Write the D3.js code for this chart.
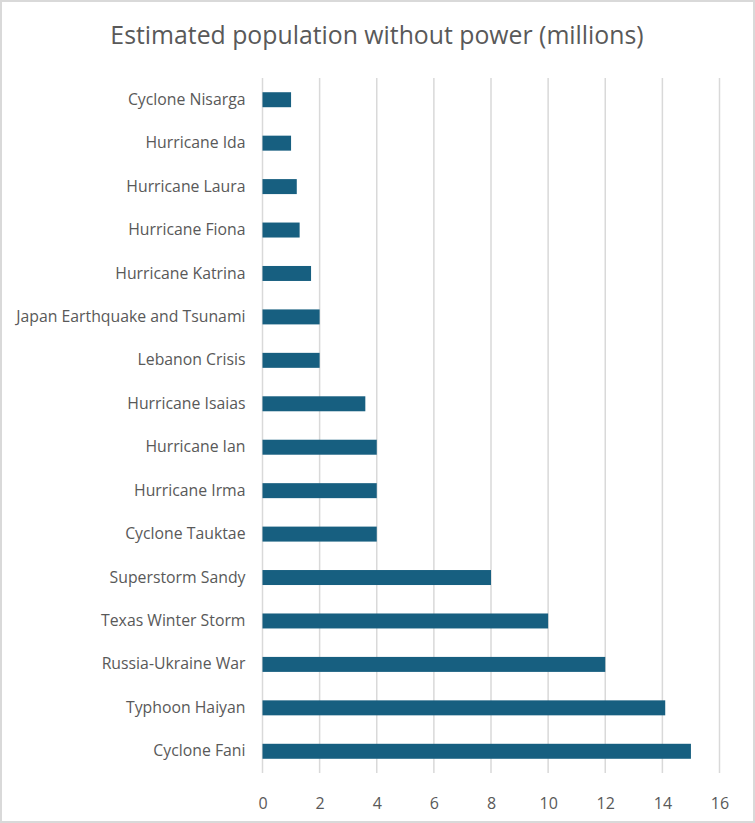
<!DOCTYPE html>
<html><head><meta charset="utf-8">
<script src="https://cdn.jsdelivr.net/npm/d3@7"></script>
<style>body{margin:0;background:#fff}svg{display:block}</style>
</head><body>
<script>
const categories = ["Cyclone Nisarga","Hurricane Ida","Hurricane Laura","Hurricane Fiona","Hurricane Katrina","Japan Earthquake and Tsunami","Lebanon Crisis","Hurricane Isaias","Hurricane Ian","Hurricane Irma","Cyclone Tauktae","Superstorm Sandy","Texas Winter Storm","Russia-Ukraine War","Typhoon Haiyan","Cyclone Fani"];
const values = [1,1,1.2,1.3,1.7,2,2,3.6,4,4,4,8,10,12,14.1,15];
const xTicks = [0,2,4,6,8,10,12,14,16];
const title = "Estimated population without power (millions)";

const W=755,H=823;
const svg=d3.select("body").append("svg").attr("width",W).attr("height",H);
svg.append("rect").attr("x",1).attr("y",1).attr("width",W-2).attr("height",H-2).attr("fill","#fff").attr("stroke","#d9d9d9").attr("stroke-width",2);
const font="'Open Sans', 'Noto Sans', sans-serif";
const x=d3.scaleLinear().domain([0,16]).range([262.5,719.5]);
const y=d3.scaleBand().domain(categories).range([78,773]).paddingInner(0.655).paddingOuter(0.3275);
svg.append("text").attr("x",377).attr("y",44).attr("text-anchor","middle").attr("font-family",font).attr("font-size",24.8).attr("fill","#595959").text(title);
const g=svg.append("g");
g.selectAll("line.grid").data(xTicks).join("line").attr("class","grid")
 .attr("x1",d=>x(d)).attr("x2",d=>x(d)).attr("y1",78).attr("y2",773).attr("stroke","#d9d9d9").attr("stroke-width",1.5);
g.selectAll("rect.bar").data(values).join("rect").attr("class","bar")
 .attr("x",x(0)).attr("y",(d,i)=>y(categories[i])).attr("width",d=>x(d)-x(0)).attr("height",y.bandwidth()).attr("fill","#175f80");
const yAxis=d3.axisLeft(y).tickSize(0).tickPadding(17);
const ya=svg.append("g").attr("transform",`translate(${x(0)},0)`).call(yAxis);
ya.select(".domain").remove();
ya.selectAll("text").attr("font-family",font).attr("font-size",15.8).attr("fill","#595959");
const xAxis=d3.axisBottom(x).tickValues(xTicks).tickSize(0).tickPadding(13);
const xa=svg.append("g").attr("transform","translate(0,785)").call(xAxis);
xa.select(".domain").remove();
xa.selectAll("text").attr("font-family",font).attr("font-size",16).attr("fill","#595959");
</script>
</body></html>
